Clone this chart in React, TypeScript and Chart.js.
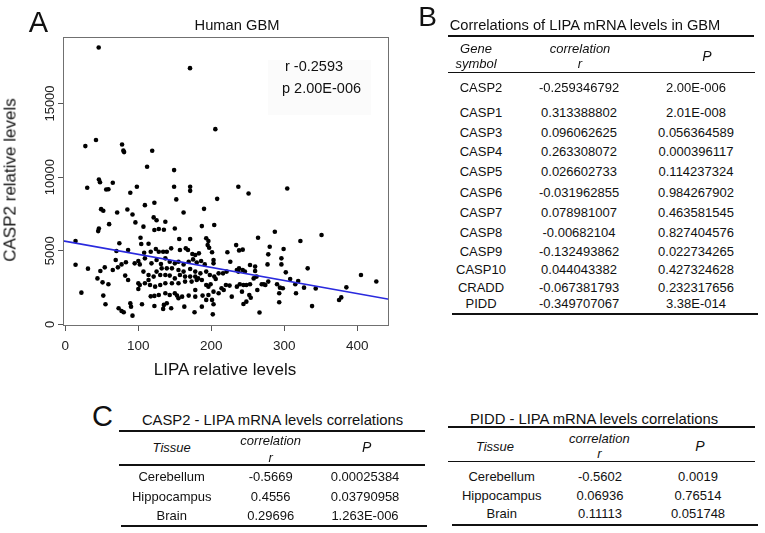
import React, { useEffect, useRef } from "react";
import { Chart, registerables } from "chart.js";

Chart.register(...registerables);

// ---------- Panel A data ----------
const lipaRelative: number[] = [
  45.7, 170.8, 205.5, 42, 27.4, 77.7, 79.5, 80.5, 119, 112, 149,
  46, 47.5, 30, 56, 59, 65, 98, 149, 171, 171, 89, 152, 208, 237, 251, 304, 109, 122, 49, 52, 71, 85, 92, 162, 190, 121, 125, 96, 137, 60, 46, 187,
  14, 14, 22, 31, 351, 338, 343, 375, 378, 385, 405, 426,
  45, 107, 122, 128, 135, 150,
  103, 114, 104, 156, 171, 74, 86,
  108, 117, 124, 128, 134, 139, 145, 157, 165, 168, 70, 174, 178, 183,
  48, 54, 65, 72, 77, 83, 95, 100, 102, 69, 109, 118, 125, 131, 137, 143, 150, 155, 162, 169, 175, 180, 186,
  132, 139, 146, 155, 162, 171, 178, 185,
  44, 51, 59, 82, 86, 107, 114, 121, 125, 130, 137, 143, 150, 157, 164, 171, 178, 182,
  100, 109, 116, 123, 130, 137, 146, 155, 164, 173, 180, 187,
  52, 100, 102, 114, 117, 122, 128, 137, 143, 150, 153, 155, 160, 169, 178, 178, 188,
  55, 73, 77, 80, 89, 90, 105, 122, 135, 139, 134, 145, 163, 177, 187, 92,
  204, 193, 196, 195, 197, 201, 203, 203, 191, 193, 198, 204, 210, 216, 221, 226,
  234, 238, 243, 222, 235, 238, 243, 237, 246, 253, 260, 260,
  264, 280, 287, 278, 299, 296, 296, 277, 302, 322, 332,
  258, 262, 269, 274, 278, 290, 294, 298, 308, 315, 319, 327,
  193, 196, 199, 206, 196, 203, 210, 214, 217, 220, 225, 228, 235, 239, 244, 248, 253,
  242, 252, 254, 248, 244, 263, 272, 293, 316, 293, 193, 201, 203, 202, 266,
];

const casp2Relative: number[] = [
  18800, 17400, 13260, 12520, 12110, 12220, 11800, 11700, 11790, 10710, 10480,
  9840, 9660, 9280, 9160, 9180, 9620, 9350, 9350, 9350, 9070, 8940, 8490, 8530, 9350, 8890, 9230, 8100, 8260, 7830, 7720, 7600, 7810, 7470, 7600, 7850, 7270, 7080, 6930, 6970, 6810, 6520, 6680,
  5660, 4060, 2160, 3790, 6070, 1250, 2450, 1660, 1840, 2520, 3360, 2920,
  6340, 6640, 6410, 6480, 6430, 6520,
  5890, 5480, 5460, 5800, 5800, 5510, 5060,
  4870, 4940, 5120, 4940, 4940, 4940, 5170, 5060, 5170, 5060, 4990, 4780, 4720, 4830,
  3630, 3880, 3700, 3880, 4080, 4220, 4150, 4310, 4080, 4380, 4490, 4150, 4380, 4110, 4490, 4260, 4150, 4260, 4080, 4260, 4420, 4200, 4310,
  3810, 3810, 3810, 3700, 3590, 3770, 3590, 3470,
  3130, 2860, 2730, 3320, 3020, 3590, 3360, 3250, 3590, 3360, 3360, 3320, 3130, 3360, 3250, 3250, 3250, 3130,
  2800, 2800, 2680, 2570, 2680, 2800, 2800, 2800, 2910, 2910, 3020, 3020,
  1960, 2410, 2680, 3020, 1910, 1940, 2000, 2120, 2000, 2120, 1960, 1780, 1890, 1960, 2340, 1890, 1960,
  1370, 1100, 920, 830, 1440, 1210, 1370, 1260, 1330, 1440, 1060, 1100, 1210, 830, 1210, 600,
  6750, 5850, 5670, 5390, 5210, 4900, 4380, 4150, 4080, 3590, 3360, 3250, 3470, 3470, 3590, 4260,
  5390, 5030, 5080, 4900, 3700, 3810, 3700, 3590, 3590, 4040, 3930, 3630,
  5890, 5280, 6300, 4760, 5120, 4490, 4080, 4080, 3540, 5670, 3810,
  3130, 3250, 2730, 2680, 2910, 2730, 2500, 2460, 3090, 2730, 2950, 2500,
  2680, 2570, 2730, 3090, 2000, 2230, 2120, 2460, 2340, 2680, 2640, 1890, 2570, 2730, 2680, 2680, 2730,
  2230, 2000, 1820, 1550, 1390, 2340, 2730, 2120, 2120, 1510, 1670, 1670, 1370, 690, 810,
];

const xTickValues = [0, 100, 200, 300, 400];
const yTickValues = [0, 5000, 10000, 15000];
const xAxisRange = [-3.2, 443.4];
const yAxisRange = [-102, 19514];
const fitIntercept = 5650;
const fitSlope = -8.88;
const statR = "r -0.2593";
const statP = "p 2.00E-006";

// ---------- Panel B data ----------
const geneSymbols = ["CASP2", "CASP1", "CASP3", "CASP4", "CASP5", "CASP6", "CASP7", "CASP8", "CASP9", "CASP10", "CRADD", "PIDD"];
const geneCorrelation = ["-0.259346792", "0.313388802", "0.096062625", "0.263308072", "0.026602733", "-0.031962855", "0.078981007", "-0.00682104", "-0.132493862", "0.044043382", "-0.067381793", "-0.349707067"];
const genePValue = ["2.00E-006", "2.01E-008", "0.056364589", "0.000396117", "0.114237324", "0.984267902", "0.463581545", "0.827404576", "0.022734265", "0.427324628", "0.232317656", "3.38E-014"];

// ---------- Panel C data ----------
const tissues = ["Cerebellum", "Hippocampus", "Brain"];
const casp2TissueR = ["-0.5669", "0.4556", "0.29696"];
const casp2TissueP = ["0.00025384", "0.03790958", "1.263E-006"];
const piddTissueR = ["-0.5602", "0.06936", "0.11113"];
const piddTissueP = ["0.0019", "0.76514", "0.051748"];

// ---------- layout ----------
const FONT = '"Liberation Sans", Arial, Helvetica, sans-serif';
const bRowY = [87, 112, 132, 151, 171, 192, 212, 232, 251, 269, 287, 303];
const cRowYLeft = [476, 495.5, 515];
const cRowYRight = [476, 494.5, 513];

type TP = { x: number; y: number; size: number; italic?: boolean; align?: "center" | "left"; rotate?: boolean; children: React.ReactNode };
function T({ x, y, size, italic, align = "center", rotate, children }: TP) {
  const tr = align === "center" ? "translate(-50%,-50%)" : "translate(0,-50%)";
  return (
    <div
      style={{
        position: "absolute",
        left: x,
        top: y,
        transform: tr + (rotate ? " rotate(-90deg)" : ""),
        fontFamily: FONT,
        fontSize: size,
        fontStyle: italic ? "italic" : "normal",
        lineHeight: 1,
        whiteSpace: "nowrap",
        color: "#111",
      }}
    >
      {children}
    </div>
  );
}

function Rule({ x1, x2, y, w }: { x1: number; x2: number; y: number; w: number }) {
  return <div style={{ position: "absolute", left: x1, top: y - w / 2, width: x2 - x1, height: w, background: "#111" }} />;
}

const framePlugin = {
  id: "rframe",
  afterDraw(chart: any) {
    const { ctx, chartArea: a, scales } = chart;
    ctx.save();
    ctx.strokeStyle = "#707070";
    ctx.lineWidth = 1;
    ctx.strokeRect(a.left + 0.5, a.top + 0.5, a.right - a.left - 1, a.bottom - a.top - 1);
    ctx.fillStyle = "#222";
    ctx.font = `13px ${FONT}`;
    ctx.textAlign = "center";
    ctx.textBaseline = "alphabetic";
    for (const v of yTickValues) {
      const py = scales.y.getPixelForValue(v);
      ctx.save();
      ctx.translate(53.5, py);
      ctx.rotate(-Math.PI / 2);
      ctx.fillText(String(v), 0, 0);
      ctx.restore();
    }
    ctx.restore();
  },
};

function ScatterA() {
  const ref = useRef<HTMLCanvasElement | null>(null);
  useEffect(() => {
    const canvas = ref.current!;
    const n = Math.min(lipaRelative.length, casp2Relative.length);
    const pts = [];
    for (let i = 0; i < n; i++) pts.push({ x: lipaRelative[i], y: casp2Relative[i] });
    const fit = xAxisRange.map((x) => ({ x, y: fitIntercept + fitSlope * x }));
    const chart = new Chart(canvas, {
      type: "scatter",
      data: {
        datasets: [
          { type: "line", data: fit, borderColor: "#2a2ade", borderWidth: 1.6, pointRadius: 0, fill: false } as any,
          { data: pts, pointRadius: 2.3, pointHoverRadius: 2.3, backgroundColor: "#000", borderWidth: 0 },
        ],
      },
      options: {
        animation: false,
        responsive: false,
        events: [],
        layout: { padding: { left: 0, top: 37, right: 11, bottom: 0 } },
        plugins: { legend: { display: false }, tooltip: { enabled: false } },
        scales: {
          x: {
            type: "linear",
            min: xAxisRange[0],
            max: xAxisRange[1],
            afterFit: (s: any) => { s.height = 59; },
            afterBuildTicks: (s: any) => { s.ticks = xTickValues.map((v) => ({ value: v })); },
            grid: { drawOnChartArea: false, drawTicks: true, tickLength: 5, color: "#555" },
            border: { display: false },
            ticks: { font: { family: FONT, size: 13.5 }, color: "#222", padding: 7, maxRotation: 0, autoSkip: false },
          },
          y: {
            type: "linear",
            min: yAxisRange[0],
            max: yAxisRange[1],
            afterFit: (s: any) => { s.width = 63; },
            afterBuildTicks: (s: any) => { s.ticks = yTickValues.map((v) => ({ value: v })); },
            grid: { drawOnChartArea: false, drawTicks: true, tickLength: 5, color: "#555" },
            border: { display: false },
            ticks: { color: "rgba(0,0,0,0)", font: { family: FONT, size: 13 } },
          },
        },
      } as any,
      plugins: [framePlugin],
    });
    return () => chart.destroy();
  }, []);
  return <canvas ref={ref} width={400} height={385} style={{ position: "absolute", left: 0, top: 0, width: 400, height: 385 }} />;
}

export default function App() {
  return (
    <div style={{ position: "absolute", left: 0, top: 0, width: 765, height: 533, background: "#fff", overflow: "hidden" }}>
      {/* Panel A */}
      <div style={{ position: "absolute", left: 268, top: 60, width: 103, height: 55, background: "#fbfbfb" }} />
      <ScatterA />
      <T x={38.5} y={22} size={29}>A</T>
      <T x={237} y={25} size={14.7}>Human GBM</T>
      <T x={285} y={66} size={14.5} align="left">{statR}</T>
      <T x={282} y={88} size={14.5} align="left">{statP}</T>
      <T x={225} y={369} size={17}>LIPA relative levels</T>
      <T x={10} y={180} size={17} rotate>CASP2 relative levels</T>

      {/* Panel B */}
      <T x={427.5} y={16.5} size={28}>B</T>
      <T x={585} y={25} size={14.7}>Correlations of LIPA mRNA levels in GBM</T>
      <Rule x1={448} x2={754} y={36} w={2} />
      <T x={476} y={48} size={13} italic>Gene</T>
      <T x={476} y={63} size={13} italic>symbol</T>
      <T x={580} y={48} size={13} italic>correlation</T>
      <T x={580} y={63} size={13} italic>r</T>
      <T x={707} y={56} size={14} italic>P</T>
      <Rule x1={448} x2={755} y={72.5} w={1.2} />
      {geneSymbols.map((g, i) => (
        <React.Fragment key={g}>
          <T x={481} y={bRowY[i]} size={13}>{g}</T>
          <T x={579} y={bRowY[i]} size={13}>{geneCorrelation[i]}</T>
          <T x={696} y={bRowY[i]} size={13}>{genePValue[i]}</T>
        </React.Fragment>
      ))}
      <Rule x1={452} x2={758} y={314} w={2} />

      {/* Panel C left */}
      <T x={102.5} y={416} size={29}>C</T>
      <T x={272.5} y={420} size={14.8}>CASP2 - LIPA mRNA levels correlations</T>
      <Rule x1={119} x2={425} y={430.5} w={2} />
      <T x={171.7} y={447} size={13} italic>Tissue</T>
      <T x={270.7} y={440} size={13} italic>correlation</T>
      <T x={270.7} y={456.5} size={13} italic>r</T>
      <T x={366.7} y={447} size={14} italic>P</T>
      <Rule x1={119} x2={425} y={465} w={1.2} />
      {tissues.map((t, i) => (
        <React.Fragment key={"l" + t}>
          <T x={171.7} y={cRowYLeft[i]} size={13}>{t}</T>
          <T x={270.7} y={cRowYLeft[i]} size={13}>{casp2TissueR[i]}</T>
          <T x={365} y={cRowYLeft[i]} size={13}>{casp2TissueP[i]}</T>
        </React.Fragment>
      ))}
      <Rule x1={121} x2={427} y={526} w={2} />

      {/* Panel C right */}
      <T x={594} y={419} size={14.8}>PIDD - LIPA mRNA levels correlations</T>
      <Rule x1={448} x2={755} y={427} w={2} />
      <T x={495} y={446} size={13} italic>Tissue</T>
      <T x={599.3} y={438} size={13} italic>correlation</T>
      <T x={599.3} y={452.7} size={13} italic>r</T>
      <T x={700} y={446} size={14} italic>P</T>
      <Rule x1={448} x2={755} y={461.7} w={1.2} />
      {tissues.map((t, i) => (
        <React.Fragment key={"r" + t}>
          <T x={501.7} y={cRowYRight[i]} size={13}>{t}</T>
          <T x={600} y={cRowYRight[i]} size={13}>{piddTissueR[i]}</T>
          <T x={698} y={cRowYRight[i]} size={13}>{piddTissueP[i]}</T>
        </React.Fragment>
      ))}
      <Rule x1={452} x2={758} y={525.3} w={2} />
    </div>
  );
}
